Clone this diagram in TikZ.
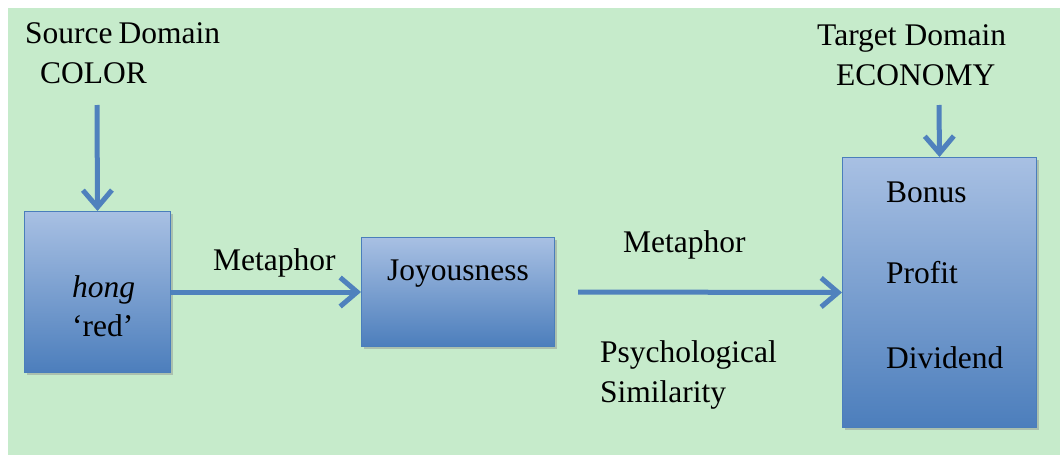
\documentclass[tikz,border=0pt]{standalone}
\usepackage{fontspec}
\setmainfont{Liberation Serif}
\usetikzlibrary{arrows.meta,shadows}
\definecolor{bggreen}{RGB}{198,235,203}
\definecolor{linkblue}{RGB}{79,129,189}
\definecolor{boxtop}{RGB}{168,192,227}
\definecolor{boxbottom}{RGB}{76,126,188}
\definecolor{boxedge}{RGB}{74,126,187}
\begin{document}
\begin{tikzpicture}[x=1pt,y=-1pt,
  every node/.style={font=\fontsize{31.5}{38}\selectfont, inner sep=0pt},
  label/.style={anchor=base west},
  box/.style={anchor=north west, draw=boxedge, line width=1pt,
    top color=boxtop, bottom color=boxbottom, shading angle=0,
    drop shadow={shadow xshift=2pt, shadow yshift=-2.5pt, fill=black!45, opacity=.45}},
  link/.style={draw=linkblue, line width=5pt,
    -{Straight Barb[length=17pt, width=29pt, line width=5pt]}}]
  % canvas
  \useasboundingbox (0,0) rectangle (1060,455);
  \fill[white] (0,0) rectangle (1060,455);
  \fill[bggreen] (8,8) rectangle (1060,455);

  % boxes
  \node[box, minimum width=146pt, minimum height=161pt] (hong) at (24,211) {};
  \node[box, minimum width=193pt, minimum height=109pt] (joy) at (361,237) {};
  \node[box, minimum width=194pt, minimum height=270pt] (econ) at (842,157) {};

  % domain headings
  \node[label] (src) at (25,43) {Source\kern-2pt\ Domain};
  \node[label] (color) at (40,83) {COLOR};
  \node[label] (tgt) at (817,45) {Target Domain};
  \node[label] (economy) at (836,85) {ECONOMY};

  % box contents
  \node[label] (hongword) at (72,297) {\itshape hong};
  \node[label] (red) at (72,336) {‘red’};
  \node[label] (joytext) at (387,280) {Joyousness};
  \node[label] (bonus) at (886,202) {Bonus};
  \node[label] (profit) at (886,283) {Profit};
  \node[label] (dividend) at (886,368) {Dividend};

  % connector labels
  \node[label] (meta1) at (213,270) {Metaphor};
  \node[label] (meta2) at (623,252) {Metaphor};
  \node[label] (psych) at (600,362) {Psychological};
  \node[label] (simil) at (600,402) {Similarity};

  % connectors
  \coordinate (srcstart) at (97,105);
  \coordinate (tgtstart) at (939,105);
  \coordinate (simstart) at (578,292);
  \draw[link] (srcstart) -- (hong.north);
  \draw[link] (tgtstart) -- (econ.north);
  \draw[link] (hong.east) -- (joy.west);
  \draw[link] (simstart) -- (econ.west);
\end{tikzpicture}
\end{document}
